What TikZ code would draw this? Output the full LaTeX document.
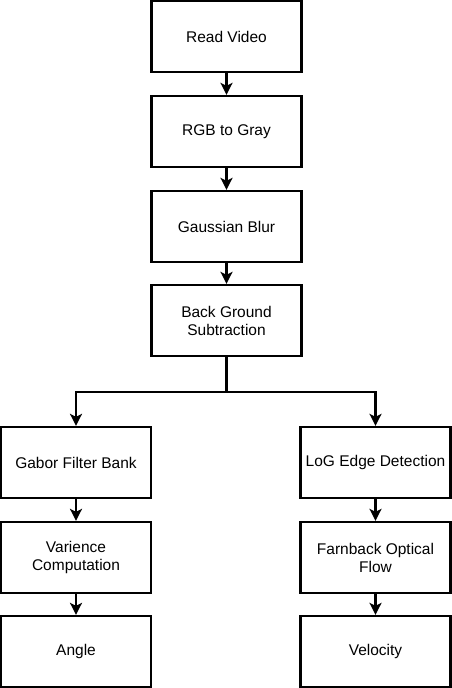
\documentclass[tikz,border=0pt]{standalone}
\usepackage{fontspec}
\setmainfont{Liberation Sans}
\usetikzlibrary{arrows.meta}

\tikzset{
  stagebox/.style={draw, line width=2.3pt, minimum width=150pt, minimum height=71pt,
    align=center, inner sep=2pt, font=\fontsize{15.5}{18}\selectfont},
  flow/.style={line width=2.3pt, -{Stealth[length=12pt,width=12pt,inset=3pt]}}
}

\begin{document}
\begin{tikzpicture}[x=1pt,y=-1pt]
  \useasboundingbox (0,0) rectangle (451,688);
  \node[stagebox] (read) at (226.5,36.5) {Read Video};
  \node[stagebox] (gray) at (226.5,131.5) {RGB to Gray};
  \node[stagebox] (blur) at (226.5,226.5) {Gaussian Blur};
  \node[stagebox] (bgs) at (226.5,320.5) {Back Ground\\Subtraction};
  \node[stagebox] (gabor) at (76,462.5) {Gabor Filter Bank};
  \node[stagebox] (var) at (76,557.5) {Varience\\Computation};
  \node[stagebox] (angle) at (76,651.5) {Angle};
  \node[stagebox] (edge) at (375.5,462.5) {LoG Edge Detection};
  \node[stagebox] (flowbox) at (375.5,557.5) {Farnback Optical\\Flow};
  \node[stagebox] (vel) at (375.5,651.5) {Velocity};
  \coordinate (split) at (226.5,392);
  \draw[flow] (read) -- (gray);
  \draw[flow] (gray) -- (blur);
  \draw[flow] (blur) -- (bgs);
  \draw[line width=2.3pt] (bgs.south) -- (split);
  \draw[flow] (split) -| (gabor.north);
  \draw[flow] (split) -| (edge.north);
  \draw[flow] (gabor) -- (var);
  \draw[flow] (var) -- (angle);
  \draw[flow] (edge) -- (flowbox);
  \draw[flow] (flowbox) -- (vel);
\end{tikzpicture}
\end{document}
